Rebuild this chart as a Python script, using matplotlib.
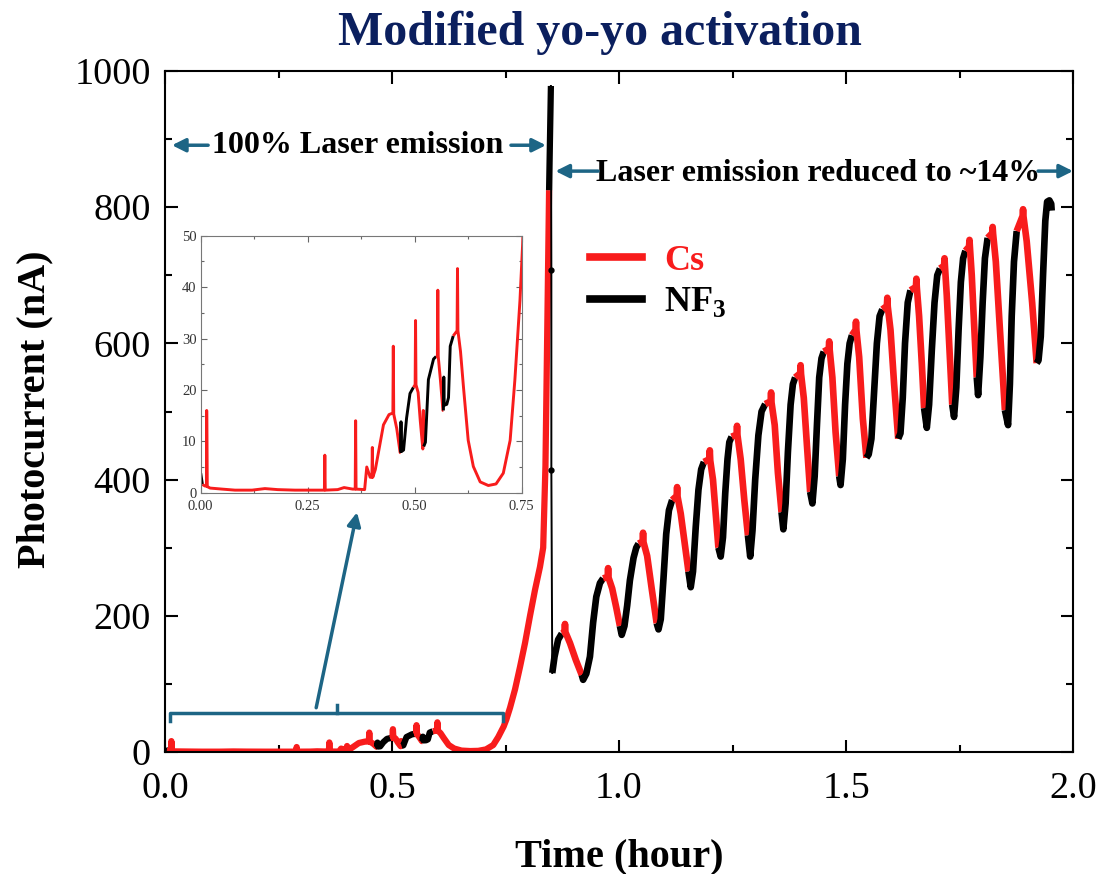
import numpy as np
import matplotlib.pyplot as plt
from matplotlib.lines import Line2D
from matplotlib.ticker import MultipleLocator

plt.rcParams['font.family'] = 'Liberation Serif'
plt.rcParams['mathtext.fontset'] = 'custom'
plt.rcParams['mathtext.rm'] = 'Liberation Serif'
plt.rcParams['mathtext.bf'] = 'Liberation Serif:bold'

# ---- activation at 100% laser: time (hour) and photocurrent (nA) ----
act_t = [0.000, 0.004, 0.010, 0.014, 0.014, 0.015, 0.022, 0.050, 0.080, 0.120,
         0.150, 0.180, 0.220, 0.260, 0.289, 0.290, 0.291, 0.320, 0.335, 0.355,
         0.361, 0.362, 0.363, 0.383, 0.388, 0.396, 0.400, 0.401, 0.402, 0.408,
         0.415, 0.427, 0.440, 0.449, 0.450, 0.451, 0.458, 0.466, 0.467, 0.468,
         0.469, 0.474, 0.481, 0.489, 0.497, 0.501, 0.502, 0.503, 0.508, 0.513,
         0.519, 0.520, 0.521, 0.525, 0.532, 0.544, 0.550, 0.553, 0.554, 0.555,
         0.560, 0.566, 0.567, 0.568, 0.569, 0.575, 0.579, 0.583, 0.590, 0.599,
         0.600, 0.601, 0.607, 0.614, 0.625, 0.637, 0.653, 0.672, 0.690, 0.707,
         0.723, 0.734, 0.746, 0.752, 0.760, 0.771, 0.782, 0.793, 0.804, 0.815,
         0.826, 0.833, 0.838, 0.842, 0.846, 0.850]
act_v = [3.8, 1.6, 1.3, 1.3, 16.0, 1.2, 0.9, 0.7, 0.5, 0.5,
         0.8, 0.6, 0.5, 0.5, 0.5, 7.3, 0.5, 0.6, 1.0, 0.7,
         0.7, 14.0, 0.7, 0.6, 5.0, 3.0, 3.0, 8.8, 3.0, 4.5,
         7.7, 13.2, 15.2, 15.5, 28.5, 15.3, 12.5, 7.8, 7.8, 13.8,
         8.0, 8.3, 14.5, 19.3, 20.5, 21.0, 33.5, 21.0, 19.5, 14.0,
         8.5, 16.0, 9.0, 9.8, 22.0, 26.0, 26.5, 26.5, 39.4, 26.5,
         22.0, 16.0, 16.0, 22.5, 17.0, 17.2, 18.5, 28.5, 30.5, 31.5,
         43.6, 31.5, 27.5, 20.5, 10.2, 5.1, 2.1, 1.4, 1.7, 3.8,
         10.2, 21.9, 37.5, 48.0, 65, 92, 125, 160, 200, 238,
         272, 300, 420, 620, 825, 978]

# ---- laser switched down: fast drop ----
switch_t = [0.850, 0.851, 0.851, 0.853]
switch_v = [978, 708, 414, 116]

# ---- yo-yo cycles at ~14% laser ----
yoyo_t = [0.853, 0.858, 0.866, 0.874, 0.880, 0.881, 0.882, 0.892, 0.905, 0.918,
          0.921, 0.928, 0.936, 0.943, 0.950, 0.958, 0.965, 0.975, 0.976, 0.977,
          0.985, 0.994, 1.002,
          1.006, 1.012, 1.018, 1.024, 1.032, 1.038, 1.043, 1.052, 1.053, 1.054,
          1.062, 1.072, 1.083,
          1.087, 1.092, 1.098, 1.104, 1.110, 1.117, 1.127, 1.128, 1.129, 1.136,
          1.145, 1.153,
          1.158, 1.163, 1.169, 1.175, 1.181, 1.187, 1.199, 1.200, 1.201, 1.207,
          1.213, 1.219,
          1.224, 1.229, 1.234, 1.239, 1.243, 1.248, 1.259, 1.260, 1.261, 1.268,
          1.276, 1.284,
          1.289, 1.294, 1.300, 1.307, 1.314, 1.322, 1.334, 1.335, 1.336, 1.343,
          1.350, 1.358,
          1.362, 1.367, 1.372, 1.378, 1.383, 1.388, 1.399, 1.400, 1.401, 1.407,
          1.414, 1.421,
          1.426, 1.431, 1.436, 1.441, 1.446, 1.451, 1.462, 1.463, 1.464, 1.470,
          1.477, 1.485,
          1.488, 1.493, 1.498, 1.503, 1.508, 1.513, 1.521, 1.522, 1.523, 1.529,
          1.537, 1.545,
          1.550, 1.556, 1.562, 1.568, 1.574, 1.580, 1.590, 1.591, 1.592, 1.598,
          1.606, 1.615,
          1.620, 1.625, 1.630, 1.636, 1.642, 1.654, 1.655, 1.656, 1.661, 1.667,
          1.672,
          1.678, 1.683, 1.689, 1.695, 1.701, 1.707, 1.716, 1.717, 1.718, 1.722,
          1.728, 1.734,
          1.738, 1.743, 1.748, 1.753, 1.758, 1.763, 1.771, 1.772, 1.773, 1.777,
          1.782, 1.788,
          1.791, 1.796, 1.801, 1.806, 1.812, 1.822, 1.823, 1.824, 1.830, 1.840,
          1.850,
          1.857, 1.861, 1.865, 1.870, 1.876, 1.889, 1.890, 1.891, 1.898, 1.910,
          1.920,
          1.924, 1.929, 1.934, 1.939, 1.943, 1.948, 1.952, 1.953]
yoyo_v = [116, 140, 165, 174, 176, 188, 176, 160, 135, 113,
          106, 115, 140, 190, 228, 248, 255, 257, 270, 256,
          240, 212, 185,
          172, 185, 215, 252, 285, 300, 306, 309, 322, 308,
          288, 240, 189,
          180, 195, 255, 320, 355, 370, 376, 389, 375, 350,
          305, 265,
          242, 265, 330, 385, 415, 426, 430, 443, 428, 400,
          350, 300,
          287, 315, 380, 430, 455, 463, 466, 479, 465, 430,
          370, 318,
          287, 325, 400, 465, 500, 511, 515, 528, 513, 480,
          410, 352,
          327, 365, 440, 510, 540, 550, 556, 568, 555, 520,
          450, 382,
          365, 405, 480, 550, 578, 588, 592, 603, 591, 550,
          470, 405,
          392, 430, 510, 570, 600, 612, 620, 632, 619, 580,
          490, 432,
          437, 460, 530, 600, 640, 650, 655, 667, 654, 620,
          540, 460,
          468, 520, 600, 660, 678, 683, 695, 682, 640, 570,
          505,
          476, 510, 590, 660, 700, 710, 714, 725, 713, 670,
          590, 510,
          492, 535, 620, 690, 725, 736, 742, 752, 741, 700,
          630, 550,
          524, 580, 660, 725, 755, 762, 771, 761, 720, 610,
          502,
          480, 540, 640, 720, 765, 787, 797, 786, 750, 660,
          571,
          575, 610, 700, 780, 808, 810, 805, 795]

# time windows with the NF3 valve open (everything else is Cs)
nf3_start = [0.000, 0.4665, 0.5205, 0.5665, 0.8455, 0.853, 0.918, 1.002, 1.083,
             1.153, 1.219, 1.284, 1.358, 1.421, 1.485, 1.545, 1.615, 1.672,
             1.734, 1.788, 1.850, 1.920]
nf3_end = [0.004, 0.497, 0.550, 0.590, 0.853, 0.874, 0.965, 1.043, 1.117,
           1.187, 1.248, 1.322, 1.388, 1.451, 1.513, 1.580, 1.642, 1.707,
           1.763, 1.812, 1.876, 1.960]

RED = '#f81c1c'
BLUE = '#1d6585'
NAVY = '#0b1f5e'


def draw_trace(ax, t, v, lw):
    t = np.asarray(t)
    v = np.asarray(v)
    mid = (t[:-1] + t[1:]) / 2
    is_nf3 = np.zeros(len(mid), dtype=bool)
    for a, b in zip(nf3_start, nf3_end):
        is_nf3 |= (mid > a) & (mid < b)
    start = 0
    for i in range(1, len(mid) + 1):
        if i == len(mid) or is_nf3[i] != is_nf3[start]:
            ax.plot(t[start:i + 1], v[start:i + 1],
                    color='black' if is_nf3[start] else RED, lw=lw,
                    solid_joinstyle='round', solid_capstyle='butt')
            start = i


fig = plt.figure(figsize=(11.02, 8.74), dpi=100)
ax = fig.add_axes([165 / 1102, 1 - 752 / 874, 908 / 1102, 681 / 874])

draw_trace(ax, act_t, act_v, 4.5)
ax.plot(switch_t, switch_v, color='black', lw=1.4, marker='o', ms=3.5,
        markevery=[1, 2])
draw_trace(ax, yoyo_t, yoyo_v, 4.8)

ax.set_xlim(0, 2)
ax.set_ylim(0, 1000)
ax.xaxis.set_major_locator(MultipleLocator(0.5))
ax.xaxis.set_minor_locator(MultipleLocator(0.25))
ax.yaxis.set_major_locator(MultipleLocator(200))
ax.yaxis.set_minor_locator(MultipleLocator(100))
ax.xaxis.set_major_formatter('{x:.1f}')
ax.tick_params(which='both', direction='in', top=True, right=True, width=1.5,
               labelsize=27.5)
ax.tick_params(which='major', length=9, pad=10)
ax.tick_params(axis='x', which='major', pad=14)
ax.tick_params(which='minor', length=5)
for s in ax.spines.values():
    s.set_linewidth(1.5)

fig.text(600 / 1102, 1 - 33 / 874, 'Modified yo-yo activation', color=NAVY,
         fontsize=34.5, fontweight='bold', ha='center', va='center')
fig.text(35 / 1102, 1 - 409 / 874, 'Photocurrent (nA)', fontsize=29,
         fontweight='bold', rotation=90, ha='center', va='center')
fig.text(619 / 1102, 1 - 857 / 874, 'Time (hour)', fontsize=29,
         fontweight='bold', ha='center', va='center')

# legend
handles = [Line2D([], [], color=RED, lw=5.5), Line2D([], [], color='black', lw=5.5)]
ax.legend(handles, ['Cs', r'NF$_\mathbf{3}$'], loc='upper left',
          bbox_to_anchor=(0.468, 0.745), frameon=False,
          prop={'weight': 'bold', 'size': 26}, labelcolor=[RED, 'black'],
          handlelength=1.45, handletextpad=0.6, labelspacing=0.2,
          borderpad=0, borderaxespad=0)

# laser emission annotations
arrow = dict(arrowstyle='-|>', color=BLUE, lw=2.5, mutation_scale=20,
             shrinkA=0, shrinkB=0)
ax.text(0.425, 891, '100% Laser emission', fontsize=23, fontweight='bold',
        ha='center', va='center')
ax.annotate('', xy=(0.0154, 891), xytext=(0.095, 891), arrowprops=arrow)
ax.annotate('', xy=(0.839, 891), xytext=(0.762, 891), arrowprops=arrow)
ax.text(1.439, 849, 'Laser emission reduced to ~14%', fontsize=23,
        fontweight='bold', ha='center', va='center')
ax.annotate('', xy=(0.860, 853), xytext=(0.954, 853), arrowprops=arrow)
ax.annotate('', xy=(2.0, 853), xytext=(1.923, 853), arrowprops=arrow,
            annotation_clip=False)

# bracket over the low-current region, pointing at the inset
ax.plot([0.011, 0.011, 0.745, 0.745], [45, 57, 57, 45], color=BLUE, lw=2.5)
ax.plot([0.378, 0.378], [57, 69], color=BLUE, lw=2.5)
ax.annotate('', xy=(0.423, 352), xytext=(0.333, 65), arrowprops=arrow)

# inset: zoom on the first 0.75 h
axin = fig.add_axes([200.7 / 1102, 1 - 492.7 / 874, 321 / 1102, 257 / 874])
draw_trace(axin, act_t, act_v, 2.1)
axin.set_xlim(0, 0.75)
axin.set_ylim(0, 50)
axin.xaxis.set_major_locator(MultipleLocator(0.25))
axin.xaxis.set_minor_locator(MultipleLocator(0.125))
axin.yaxis.set_major_locator(MultipleLocator(10))
axin.yaxis.set_minor_locator(MultipleLocator(5))
axin.xaxis.set_major_formatter('{x:.2f}')
axin.tick_params(which='both', direction='in', top=True, right=True,
                 color='#666666', labelcolor='#333333', labelsize=10.5, width=0.8)
axin.tick_params(which='major', length=4, pad=3)
axin.tick_params(axis='x', which='major', pad=5)
axin.tick_params(which='minor', length=2)
for s in axin.spines.values():
    s.set_linewidth(0.8)
    s.set_color('#777777')

fig.savefig('out.png', dpi=100)
